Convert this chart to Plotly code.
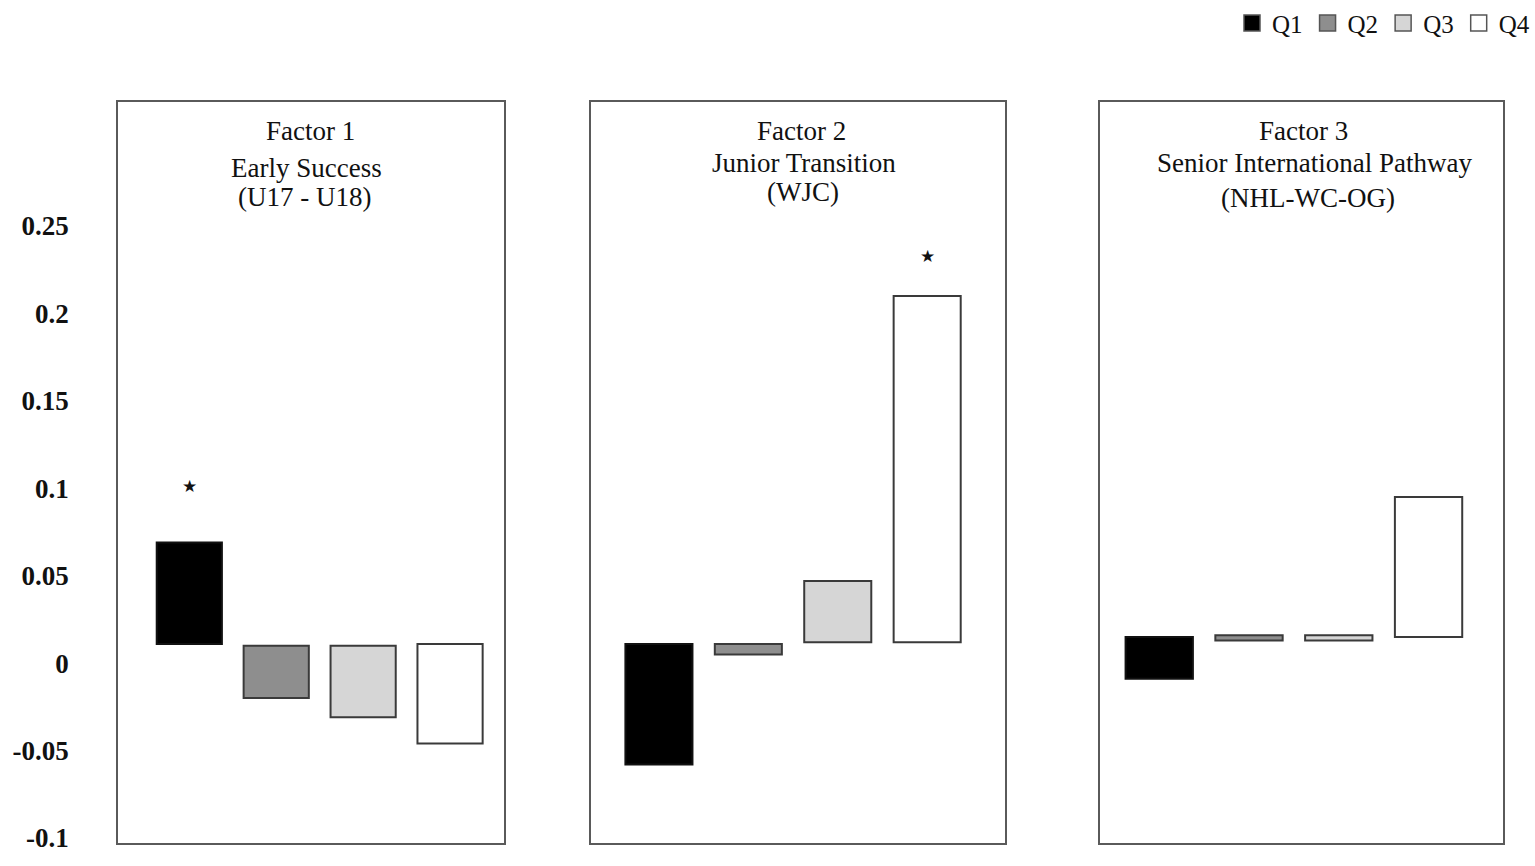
import plotly.graph_objects as go
from plotly.subplots import make_subplots

# bar extents (top / bottom) per factor
factor_labels = ["Factor 1", "Factor 2", "Factor 3"]
factor_names = ["Early Success", "Junior Transition", "Senior International Pathway"]
factor_levels = ["(U17 - U18)", "(WJC)", "(NHL-WC-OG)"]

quartiles = ["Q1", "Q2", "Q3", "Q4"]
q1_top = [0.069, 0.011, 0.015]
q1_bottom = [0.011, -0.058, -0.009]
q2_top = [0.010, 0.011, 0.016]
q2_bottom = [-0.020, 0.005, 0.013]
q3_top = [0.010, 0.047, 0.016]
q3_bottom = [-0.031, 0.012, 0.013]
q4_top = [0.011, 0.210, 0.095]
q4_bottom = [-0.046, 0.012, 0.015]

# significance stars: (factor index, quartile index, y value)
star_factor = [0, 1]
star_quartile = [0, 3]
star_y = [0.1015, 0.233]

y_ticks = [-0.1, -0.05, 0, 0.05, 0.1, 0.15, 0.2, 0.25]
y_tick_text = ["-0.1", "-0.05", "0", "0.05", "0.1", "0.15", "0.2", "0.25"]

tops = [q1_top, q2_top, q3_top, q4_top]
bottoms = [q1_bottom, q2_bottom, q3_bottom, q4_bottom]
fills = ["#000000", "#8e8e8e", "#d6d6d6", "#ffffff"]
edges = ["#111111", "#3a3a3a", "#3a3a3a", "#3a3a3a"]

FONT = "Liberation Serif"

fig = make_subplots(rows=1, cols=3)

for f in range(3):
    for q in range(4):
        fig.add_trace(
            go.Bar(
                x=[q],
                y=[tops[q][f] - bottoms[q][f]],
                base=[bottoms[q][f]],
                width=0.75,
                marker=dict(color=fills[q], line=dict(color=edges[q], width=2)),
                showlegend=False,
                hoverinfo="skip",
            ),
            row=1, col=f + 1,
        )

# legend entries (square swatches)
for q in range(4):
    fig.add_trace(
        go.Scatter(
            x=[None], y=[None], mode="markers", name=quartiles[q],
            marker=dict(symbol="square", size=16, color=fills[q],
                        line=dict(color="#555555", width=1.5)),
        ),
        row=1, col=1,
    )

x_domains = [[0.0769, 0.3283], [0.385, 0.6547], [0.7166, 0.9792]]
x_ranges = [[-0.82, 3.62], [-0.76, 3.87], [-0.66, 3.83]]
y_domain = [0.0146, 0.8945]
y_range = [-0.1027, 0.321]

for i in range(3):
    sfx = "" if i == 0 else str(i + 1)
    fig.layout["xaxis" + sfx].update(
        domain=x_domains[i], range=x_ranges[i], showticklabels=False, ticks="",
        showgrid=False, zeroline=False, showline=True, mirror=True,
        linecolor="#5a5a5a", linewidth=2,
    )
    fig.layout["yaxis" + sfx].update(
        domain=y_domain, range=y_range, showgrid=False, zeroline=False,
        showline=True, mirror=True, linecolor="#5a5a5a", linewidth=2,
        tickvals=y_ticks, ticktext=y_tick_text, ticks="",
        showticklabels=(i == 0),
    )

fig.update_yaxes(ticklabelstandoff=42, tickfont=dict(family=FONT, size=27, color="#111", weight="bold"),
                 row=1, col=1)

annotations = []
title_y = [[0.8597, 0.8162, 0.782], [0.8597, 0.822, 0.7879], [0.8597, 0.822, 0.7808]]
title_shift = [[0, -4, -6], [4, 6, 5], [2, 13, 6]]
for i in range(3):
    xref = "x domain" if i == 0 else f"x{i + 1} domain"
    lines = [factor_labels[i], factor_names[i], factor_levels[i]]
    for k in range(3):
        annotations.append(dict(
            text=lines[k], xref=xref, yref="paper", x=0.5, y=title_y[i][k],
            xshift=title_shift[i][k], showarrow=False, xanchor="center", yanchor="middle",
            font=dict(family=FONT, size=27, color="#111"),
        ))

for s in range(len(star_y)):
    f = star_factor[s]
    annotations.append(dict(
        text="★", xref="x" if f == 0 else f"x{f + 1}", yref="y" if f == 0 else f"y{f + 1}",
        x=star_quartile[s], y=star_y[s], showarrow=False,
        font=dict(family="DejaVu Sans", size=17, color="#111"),
    ))

fig.update_layout(
    autosize=True,
    margin=dict(l=0, r=0, t=0, b=0),
    plot_bgcolor="white", paper_bgcolor="white",
    barmode="overlay",
    annotations=annotations,
    showlegend=True,
    legend=dict(orientation="h", x=1.0, xanchor="right", y=1.015, yanchor="top",
                font=dict(family=FONT, size=25, color="#111"),
                itemwidth=30, tracegroupgap=0, bgcolor="rgba(0,0,0,0)"),
)

fig.write_html(
    "out.html",
    config={"displayModeBar": False, "responsive": True},
    default_width="100vw", default_height="100vh",
    post_script=("document.documentElement.style.overflow='hidden';"
                 "document.body.style.margin='0';document.body.style.overflow='hidden';"
                 "Plotly.Plots.resize(document.getElementById('{plot_id}'));"),
)
